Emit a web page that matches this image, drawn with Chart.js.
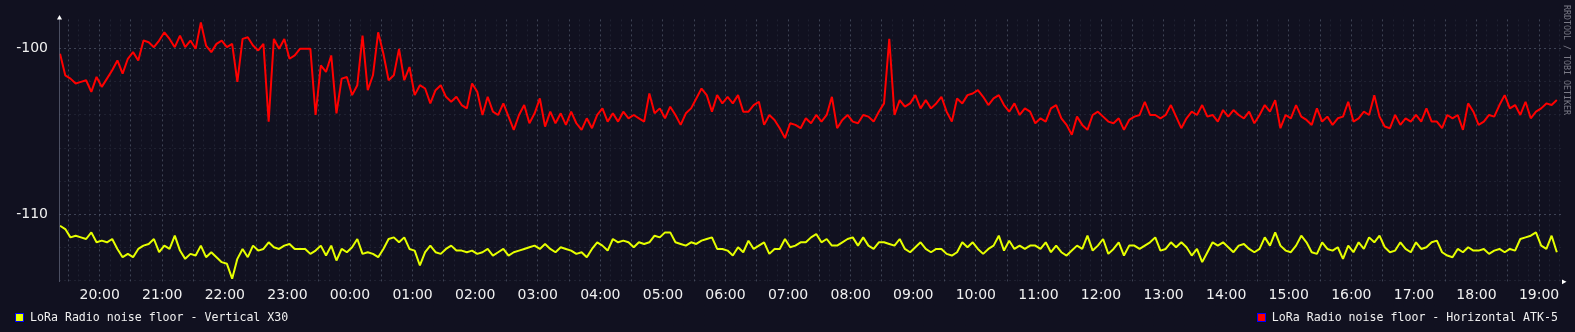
<!DOCTYPE html>
<html>
<head>
<meta charset="utf-8">
<title>LoRa noise floor</title>
<script src="https://cdn.jsdelivr.net/npm/chart.js@4/dist/chart.umd.min.js"></script>
<style>
  html, body { margin: 0; padding: 0; background: #111120; }
  #wrap { width: 1575px; height: 332px; }
</style>
</head>
<body>
<div id="wrap"><canvas id="myChart" width="1575" height="332"></canvas></div>
<script>
// sample times: minutes relative to 20:00, one reading every 5 minutes
var startMin = -38;
var stepMin = 5;

var hourTicks = ['20:00', '21:00', '22:00', '23:00', '00:00', '01:00', '02:00', '03:00',
  '04:00', '05:00', '06:00', '07:00', '08:00', '09:00', '10:00', '11:00', '12:00',
  '13:00', '14:00', '15:00', '16:00', '17:00', '18:00', '19:00'];

var seriesNames = ['LoRa Radio noise floor - Vertical X30', 'LoRa Radio noise floor - Horizontal ATK-5'];

// dBm, Vertical X30 (yellow)
var vertical = [
  -110.7, -110.9, -111.4, -111.3, -111.4, -111.5, -111.1, -111.7, -111.6, -111.7,
  -111.5, -112.1, -112.6, -112.4, -112.6, -112.1, -111.9, -111.8, -111.5, -112.3,
  -111.9, -112.1, -111.3, -112.2, -112.7, -112.4, -112.5, -111.9, -112.6, -112.3,
  -112.6, -112.9, -113.0, -113.9, -112.7, -112.1, -112.6, -111.9, -112.2, -112.1,
  -111.7, -112.0, -112.1, -111.9, -111.8, -112.1, -112.1,
  -112.1, -112.4, -112.2, -111.9, -112.5, -111.9, -112.8, -112.1, -112.3, -112.0,
  -111.5, -112.4, -112.3, -112.4, -112.6, -112.1, -111.5, -111.4, -111.7, -111.4,
  -112.1, -112.2, -113.1, -112.3, -111.9, -112.3, -112.4, -112.1, -111.9, -112.2,
  -112.2, -112.3, -112.2, -112.4, -112.3, -112.1, -112.5, -112.3, -112.1, -112.5,
  -112.3, -112.2, -112.1, -112.0, -111.9, -112.1, -111.8, -112.1,
  -112.3, -112.0, -112.1, -112.2, -112.4, -112.3, -112.6, -112.1, -111.7, -111.9,
  -112.2, -111.5, -111.7, -111.6, -111.7, -112.0, -111.7, -111.8, -111.7, -111.3,
  -111.4, -111.1, -111.1, -111.7, -111.8, -111.9, -111.7, -111.8, -111.6, -111.5,
  -111.4, -112.1, -112.1, -112.2, -112.5, -112.0, -112.3, -111.6, -112.1, -111.9,
  -111.7, -112.4, -112.1, -112.1, -111.5, -112.0, -111.9, -111.7,
  -111.7, -111.4, -111.2, -111.7, -111.5, -111.9, -111.9, -111.7, -111.5, -111.4,
  -111.9, -111.4, -111.9, -112.1, -111.7, -111.7, -111.8, -111.9, -111.5, -112.1,
  -112.3, -112.0, -111.7, -112.1, -112.3, -112.1, -112.1, -112.4, -112.5, -112.3,
  -111.7, -112.0, -111.7, -112.1, -112.4, -112.1, -111.9, -111.3, -112.2, -111.6,
  -112.1, -111.9, -112.1, -111.9, -111.9, -112.1, -111.7, -112.3,
  -111.9, -112.3, -112.5, -112.2, -111.9, -112.1, -111.3, -112.2, -111.9, -111.5,
  -112.4, -112.1, -111.7, -112.5, -111.9, -111.9, -112.1, -111.9, -111.7, -111.4,
  -112.2, -112.1, -111.7, -112.0, -111.7, -112.0, -112.5, -112.1, -112.9, -112.3,
  -111.7, -111.9, -111.7, -112.0, -112.3, -111.9, -111.8, -112.1, -112.3, -112.1,
  -111.4, -111.9, -111.1, -111.9, -112.2, -112.3, -111.9, -111.3,
  -111.7, -112.3, -112.4, -111.7, -112.1, -112.2, -112.0, -112.7, -111.9, -112.3,
  -111.7, -112.1, -111.4, -111.7, -111.3, -112.0, -112.3, -112.2, -111.7, -112.1,
  -112.3, -111.7, -112.1, -112.0, -111.7, -111.6, -112.3, -112.5, -112.6, -112.1,
  -112.3, -112.0, -112.2, -112.2, -112.1, -112.4, -112.2, -112.1, -112.3, -112.1,
  -112.2, -111.5, -111.4, -111.3, -111.1, -111.9, -112.1, -111.3, -112.3
];

// dBm, Horizontal ATK-5 (red)
var horizontal = [
  -100.3, -101.6, -101.8, -102.1, -102.0, -101.9, -102.6, -101.7, -102.3, -101.8,
  -101.3, -100.7, -101.5, -100.6, -100.2, -100.7, -99.5, -99.6, -99.9, -99.5,
  -99.0, -99.4, -99.9, -99.2, -99.9, -99.5, -100.0, -98.4, -99.8, -100.2,
  -99.7, -99.5, -99.9, -99.7, -102.0, -99.4, -99.3, -99.8, -100.1, -99.7,
  -104.4, -99.4, -100.0, -99.4, -100.6, -100.4, -100.0,
  -100.0, -100.0, -104.0, -101.0, -101.4, -100.4, -103.9, -101.8, -101.7, -102.8,
  -102.2, -99.2, -102.5, -101.6, -99.0, -100.3, -101.9, -101.6, -100.0, -101.9,
  -101.1, -102.8, -102.2, -102.4, -103.3, -102.5, -102.2, -102.9, -103.2, -102.9,
  -103.4, -103.6, -102.1, -102.6, -104.0, -102.9, -103.8, -104.0, -103.3, -104.1,
  -104.9, -104.0, -103.4, -104.5, -103.9, -103.0, -104.7, -103.8,
  -104.5, -103.9, -104.6, -103.8, -104.5, -104.9, -104.2, -104.8, -104.0, -103.6,
  -104.4, -103.9, -104.4, -103.8, -104.2, -104.0, -104.2, -104.4, -102.7, -103.9,
  -103.6, -104.2, -103.5, -104.0, -104.6, -103.9, -103.6, -103.0, -102.4, -102.8,
  -103.8, -102.8, -103.3, -102.9, -103.3, -102.8, -103.8, -103.8, -103.4, -103.2,
  -104.6, -104.0, -104.3, -104.8, -105.4, -104.5, -104.6, -104.8,
  -104.2, -104.5, -104.0, -104.4, -104.0, -102.9, -104.8, -104.3, -104.0, -104.4,
  -104.5, -104.0, -104.1, -104.4, -103.8, -103.3, -99.4, -104.0, -103.1, -103.5,
  -103.3, -102.8, -103.6, -103.1, -103.6, -103.3, -102.9, -103.8, -104.4, -103.0,
  -103.3, -102.8, -102.7, -102.5, -102.9, -103.4, -103.0, -102.8, -103.4, -103.8,
  -103.3, -104.0, -103.6, -103.8, -104.5, -104.2, -104.4, -103.6,
  -103.4, -104.2, -104.6, -105.2, -104.1, -104.6, -104.9, -104.0, -103.8, -104.1,
  -104.4, -104.5, -104.2, -104.9, -104.3, -104.1, -104.0, -103.2, -104.0, -104.0,
  -104.2, -104.0, -103.4, -104.1, -104.8, -104.2, -103.8, -104.0, -103.4, -104.1,
  -104.0, -104.4, -103.7, -104.1, -103.7, -104.0, -104.2, -103.8, -104.5, -104.0,
  -103.4, -103.8, -103.1, -104.8, -104.0, -104.2, -103.4, -104.1,
  -104.3, -104.6, -103.6, -104.4, -104.1, -104.6, -104.2, -104.1, -103.2, -104.4,
  -104.2, -103.8, -104.0, -102.8, -104.1, -104.7, -104.8, -104.0, -104.6, -104.2,
  -104.4, -104.0, -104.4, -103.6, -104.4, -104.4, -104.8, -104.0, -104.2, -104.0,
  -104.9, -103.3, -103.8, -104.6, -104.4, -104.0, -104.1, -103.4, -102.8, -103.6,
  -103.4, -104.0, -103.2, -104.2, -103.8, -103.6, -103.3, -103.4, -103.1
];

var bgColor = '#111120';
var yellow = '#e6ff00';
var red = '#ff0000';
var gridMajor = 'rgba(100,110,130,0.55)';
var gridMinor = 'rgba(80,90,110,0.22)';
var textColor = '#f0f0f0';

function toPoints(arr) {
  return arr.map(function(v, i) { return {x: startMin + i * stepMin, y: v}; });
}

// background, axis arrows, legend and the rrdtool watermark
var rrdChrome = {
  id: 'rrdChrome',
  beforeDraw: function(chart) {
    var ctx = chart.ctx;
    ctx.save();
    ctx.fillStyle = bgColor;
    ctx.fillRect(0, 0, chart.width, chart.height);
    ctx.restore();
  },
  afterDraw: function(chart) {
    var ctx = chart.ctx;
    var a = chart.chartArea;
    ctx.save();

    ctx.strokeStyle = 'rgba(90,95,115,0.8)';
    ctx.lineWidth = 1;
    ctx.beginPath();
    ctx.moveTo(a.left + 0.5, a.top - 1);
    ctx.lineTo(a.left + 0.5, a.bottom);
    ctx.stroke();

    ctx.fillStyle = '#ffffff';
    ctx.beginPath();
    ctx.moveTo(a.left + 0.5, a.top - 4.5);
    ctx.lineTo(a.left - 2, a.top);
    ctx.lineTo(a.left + 3, a.top);
    ctx.closePath();
    ctx.fill();
    ctx.beginPath();
    ctx.moveTo(a.right + 5.5, a.bottom - 0.3);
    ctx.lineTo(a.right + 1, a.bottom - 2.6);
    ctx.lineTo(a.right + 1, a.bottom + 2.2);
    ctx.closePath();
    ctx.fill();

    // legend
    ctx.font = '11.6px "DejaVu Sans Mono"';
    ctx.textBaseline = 'middle';
    ctx.fillStyle = '#0000ff';
    ctx.fillRect(15, 313, 9, 9);
    ctx.fillStyle = yellow;
    ctx.fillRect(16, 314, 7, 7);
    ctx.fillStyle = textColor;
    ctx.textAlign = 'left';
    ctx.fillText(seriesNames[0], 30, 318);

    ctx.fillStyle = '#0000ff';
    ctx.fillRect(1257, 313, 9, 9);
    ctx.fillStyle = red;
    ctx.fillRect(1258, 314, 7, 7);
    ctx.fillStyle = textColor;
    ctx.textAlign = 'right';
    ctx.fillText(seriesNames[1], 1558, 318);

    // watermark
    ctx.translate(1566, 5);
    ctx.rotate(Math.PI / 2);
    ctx.font = '8.3px "DejaVu Sans Mono"';
    ctx.fillStyle = '#7a7a86';
    ctx.textAlign = 'left';
    ctx.fillText('RRDTOOL / TOBI OETIKER', 0, 0);
    ctx.restore();
  }
};

var ctx = document.getElementById('myChart').getContext('2d');
var chart = new Chart(ctx, {
  type: 'line',
  data: {
    datasets: [{
      label: seriesNames[0],
      data: toPoints(vertical),
      borderColor: yellow,
      borderWidth: 2,
      borderJoinStyle: 'bevel',
      pointRadius: 0,
      tension: 0,
      fill: false
    }, {
      label: seriesNames[1],
      data: toPoints(horizontal),
      borderColor: red,
      borderWidth: 2,
      borderJoinStyle: 'bevel',
      pointRadius: 0,
      tension: 0,
      fill: false
    }]
  },
  options: {
    responsive: false,
    animation: false,
    devicePixelRatio: 1,
    layout: { padding: { top: 19, right: 14, left: 0, bottom: 0 } },
    plugins: { legend: { display: false }, tooltip: { enabled: false } },
    scales: {
      x: {
        type: 'linear',
        min: -39,
        max: 1401,
        afterBuildTicks: function(scale) {
          var t = [];
          for (var v = -30; v <= 1400; v += 10) t.push({value: v});
          scale.ticks = t;
        },
        afterFit: function(scale) { scale.height = 50; },
        grid: {
          drawTicks: false,
          lineWidth: 1,
          color: function(c) { return (c.tick && c.tick.value % 30 === 0) ? gridMajor : gridMinor; }
        },
        border: { display: false, dash: [2, 3] },
        ticks: {
          autoSkip: false,
          maxRotation: 0,
          padding: 5,
          color: textColor,
          font: { family: 'DejaVu Sans', size: 14 },
          callback: function(v) {
            if (v % 60 !== 0 || v < 0) return '';
            return hourTicks[v / 60] || '';
          }
        }
      },
      y: {
        min: -114.1,
        max: -98.22,
        afterBuildTicks: function(scale) {
          var t = [];
          for (var v = -114; v <= -100; v += 2) t.push({value: v});
          scale.ticks = t;
        },
        afterFit: function(scale) { scale.width = 59; },
        grid: {
          drawTicks: false,
          lineWidth: 1,
          color: function(c) {
            var v = c.tick ? c.tick.value : 0;
            return (v === -100 || v === -110) ? gridMajor : gridMinor;
          }
        },
        border: { display: false, dash: [2, 3] },
        ticks: {
          padding: 11,
          color: textColor,
          font: { family: 'DejaVu Sans', size: 14 },
          callback: function(v) { return (v === -100 || v === -110) ? String(v) : ''; }
        }
      }
    }
  },
  plugins: [rrdChrome]
});
</script>
</body>
</html>
